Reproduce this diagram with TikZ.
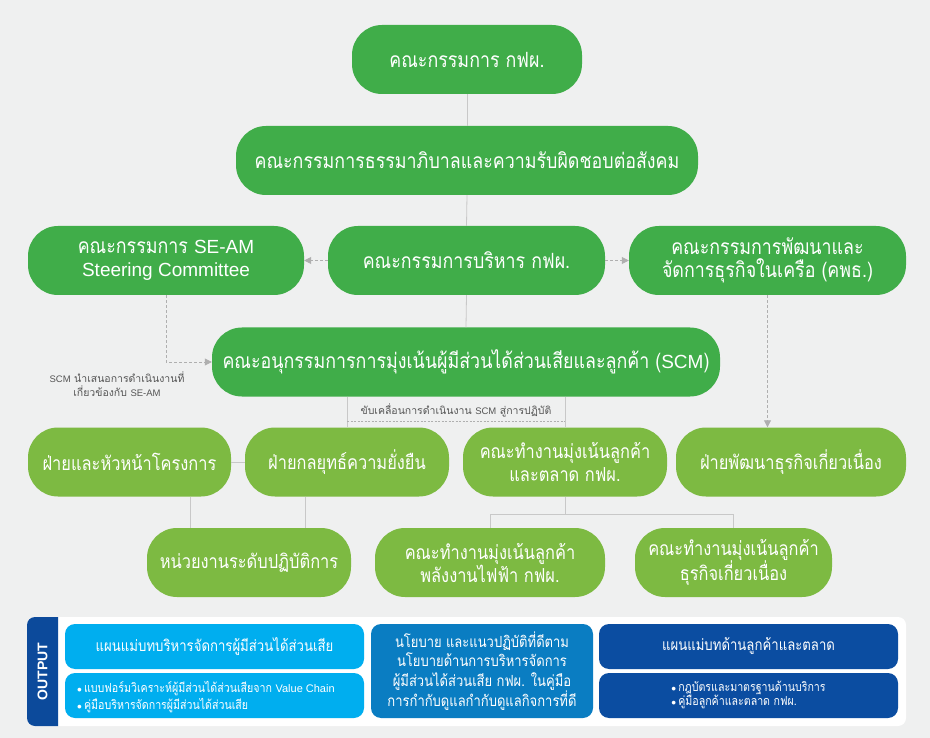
\documentclass[tikz,border=0pt]{standalone}
\usepackage{fontspec}
\newfontfamily\thai[Script=Thai,FakeStretch=0.85]{Loma}
\newfontfamily\thain[Script=Thai]{Loma}
\newfontfamily\lat{Liberation Sans}
\usetikzlibrary{arrows.meta}
\definecolor{bgc}{RGB}{239,240,240}
\definecolor{dgreen}{RGB}{64,173,73}
\definecolor{lgreen}{RGB}{125,186,66}
\definecolor{lblue}{RGB}{0,174,239}
\definecolor{mblue}{RGB}{10,125,194}
\definecolor{dblue}{RGB}{11,77,161}
\definecolor{tabblue}{RGB}{12,74,155}
\definecolor{lgray}{RGB}{200,200,200}
\definecolor{agray}{RGB}{175,175,175}
\definecolor{tgray}{RGB}{85,85,85}
\newcommand{\bul}{\raisebox{0.1ex}{\scalebox{0.8}{$\bullet$}}\,}
\begin{document}
\begin{tikzpicture}[x=1pt,y=-1pt,
  pill/.style={fill=dgreen,text=white,rounded corners=30pt,minimum height=69pt,inner sep=0pt,align=center,
    font=\thai\fontsize{21}{23}\selectfont},
  lpill/.style={pill,fill=lgreen,font=\thai\fontsize{19.3}{23}\selectfont},
  obox/.style={text=white,rounded corners=10pt,inner sep=0pt,align=center,minimum width=299pt,minimum height=45pt},
  conn/.style={draw=lgray,line width=0.8pt},
  dconn/.style={draw=agray,line width=0.8pt,dash pattern=on 3pt off 2pt,-{Triangle[length=7pt,width=7pt]}},
  note/.style={text=tgray,align=center,inner sep=0pt,font=\thain\fontsize{10.5}{14}\selectfont}
]
\useasboundingbox (0,0) rectangle (930,738);
\fill[bgc] (0,0) rectangle (930,738);

% nodes
\node[pill,minimum width=230pt] (board) at (467,59.5) {คณะกรรมการ กฟผ.};
\node[pill,minimum width=462pt] (gov) at (467,160.5) {คณะกรรมการธรรมาภิบาลและความรับผิดชอบต่อสังคม};
\node[pill,minimum width=276pt] (seam) at (166,260.5) {คณะกรรมการ {\lat\fontsize{19}{23}\selectfont SE-AM}\\{\lat\fontsize{19}{23}\selectfont Steering Committee}};
\node[pill,minimum width=277pt] (exec) at (466.5,260.5) {คณะกรรมการบริหาร กฟผ.};
\node[pill,minimum width=277pt] (kpt) at (767.5,260.5) {คณะกรรมการพัฒนาและ\\จัดการธุรกิจในเครือ (คพธ.)};
\node[pill,minimum width=508pt] (scm) at (466,362) {คณะอนุกรรมการการมุ่งเน้นผู้มีส่วนได้ส่วนเสียและลูกค้า ({\lat\fontsize{19}{23}\selectfont SCM})};

\node[lpill,minimum width=203pt] (proj) at (129.5,462) {ฝ่ายและหัวหน้าโครงการ};
\node[lpill,minimum width=204pt] (strat) at (347,462) {ฝ่ายกลยุทธ์ความยั่งยืน};
\node[lpill,minimum width=204pt] (wg) at (565,462) {คณะทำงานมุ่งเน้นลูกค้า\\และตลาด กฟผ.};
\node[lpill,minimum width=230pt] (biz) at (791,462) {ฝ่ายพัฒนาธุรกิจเกี่ยวเนื่อง};

\node[lpill,minimum width=204pt] (unit) at (249,562.5) {หน่วยงานระดับปฏิบัติการ};
\node[lpill,minimum width=230pt] (ep) at (490,562.5) {คณะทำงานมุ่งเน้นลูกค้า\\พลังงานไฟฟ้า กฟผ.};
\node[lpill,minimum width=197pt] (rel) at (733.5,562.5) {คณะทำงานมุ่งเน้นลูกค้า\\ธุรกิจเกี่ยวเนื่อง};

% connectors
\draw[conn] (board.south) -- (gov.north);
\draw[conn] (gov.south) -- (exec.north);
\draw[conn] (exec.south) -- (scm.north);
\draw[dconn] (exec.west) -- (seam.east);
\draw[dconn] (exec.east) -- (kpt.west);
\draw[dconn] (seam.south) |- (scm.west);
\draw[dconn] (kpt.south) -- (kpt.south |- biz.north);

\draw[conn] (strat.north |- scm.south) -- (strat.north);
\draw[conn] (wg.north |- scm.south) -- (wg.north);
\coordinate (bl) at (347,421);
\coordinate (br) at (565,421);
\draw[draw=agray,line width=0.8pt,dash pattern=on 2pt off 1.5pt] (bl) -- (br);
\node[note] (drive) at (456,410) {ขับเคลื่อนการดำเนินงาน {\lat\fontsize{9.5}{12}\selectfont SCM} สู่การปฏิบัติ};
\node[note] (scmnote) at (117,384) {{\lat\fontsize{9.5}{12}\selectfont SCM} นำเสนอการดำเนินงานที่\\เกี่ยวข้องกับ {\lat\fontsize{9.5}{12}\selectfont SE-AM}};

\draw[conn] (proj.east) -- (strat.west);
\draw[conn] ([xshift=60.5pt]proj.south) -- ([xshift=60.5pt]proj.south |- unit.north);
\draw[conn] ([xshift=-42pt]strat.south) -- ([xshift=-42pt]strat.south |- unit.north);
\coordinate (wgj) at (565,514);
\draw[conn] (wg.south) -- (wgj);
\draw[conn] (ep.north) -- (ep.north |- wgj) -- (rel.north |- wgj) -- (rel.north);

% output panel
\fill[white,rounded corners=8pt] (27,617) rectangle (906,726);
\begin{scope}
  \clip (20,610) rectangle (58,730);
  \fill[tabblue,rounded corners=8pt] (27,617) rectangle (80,726);
\end{scope}
\node[text=white,rotate=90,font=\lat\bfseries\fontsize{14}{16}\selectfont] (out) at (42.5,671.5) {OUTPUT};

\node[obox,fill=lblue,font=\thai\fontsize{15.5}{18}\selectfont] (a1) at (214.5,646.5) {แผนแม่บทบริหารจัดการผู้มีส่วนได้ส่วนเสีย};
\node[obox,fill=lblue] (a2) at (214.5,695.5) {};
\node[text=white,align=left,inner sep=0pt,font=\thai\fontsize{12.5}{17}\selectfont,anchor=west] (a2t) at (77,697.5) {\bul แบบฟอร์มวิเคราะห์ผู้มีส่วนได้ส่วนเสียจาก {\lat\fontsize{11}{13}\selectfont Value Chain}\\\bul คู่มือบริหารจัดการผู้มีส่วนได้ส่วนเสีย};
\node[obox,fill=mblue,minimum width=222pt,minimum height=94pt,font=\thai\fontsize{15.3}{19.5}\selectfont] (b) at (482,671) {นโยบาย และแนวปฏิบัติที่ดีตาม\\นโยบายด้านการบริหารจัดการ\\ผู้มีส่วนได้ส่วนเสีย กฟผ. ในคู่มือ\\การกำกับดูแลกำกับดูแลกิจการที่ดี};
\node[obox,fill=dblue,font=\thai\fontsize{15.5}{18}\selectfont] (c1) at (748.5,646.5) {แผนแม่บทด้านลูกค้าและตลาด};
\node[obox,fill=dblue,font=\thai\fontsize{12.5}{17}\selectfont] (c2) at (748.5,695.5) {\begin{tabular}{@{}l@{}}\bul กฎบัตรและมาตรฐานด้านบริการ\\[-3pt]\bul คู่มือลูกค้าและตลาด กฟผ.\end{tabular}};
\end{tikzpicture}
\end{document}
